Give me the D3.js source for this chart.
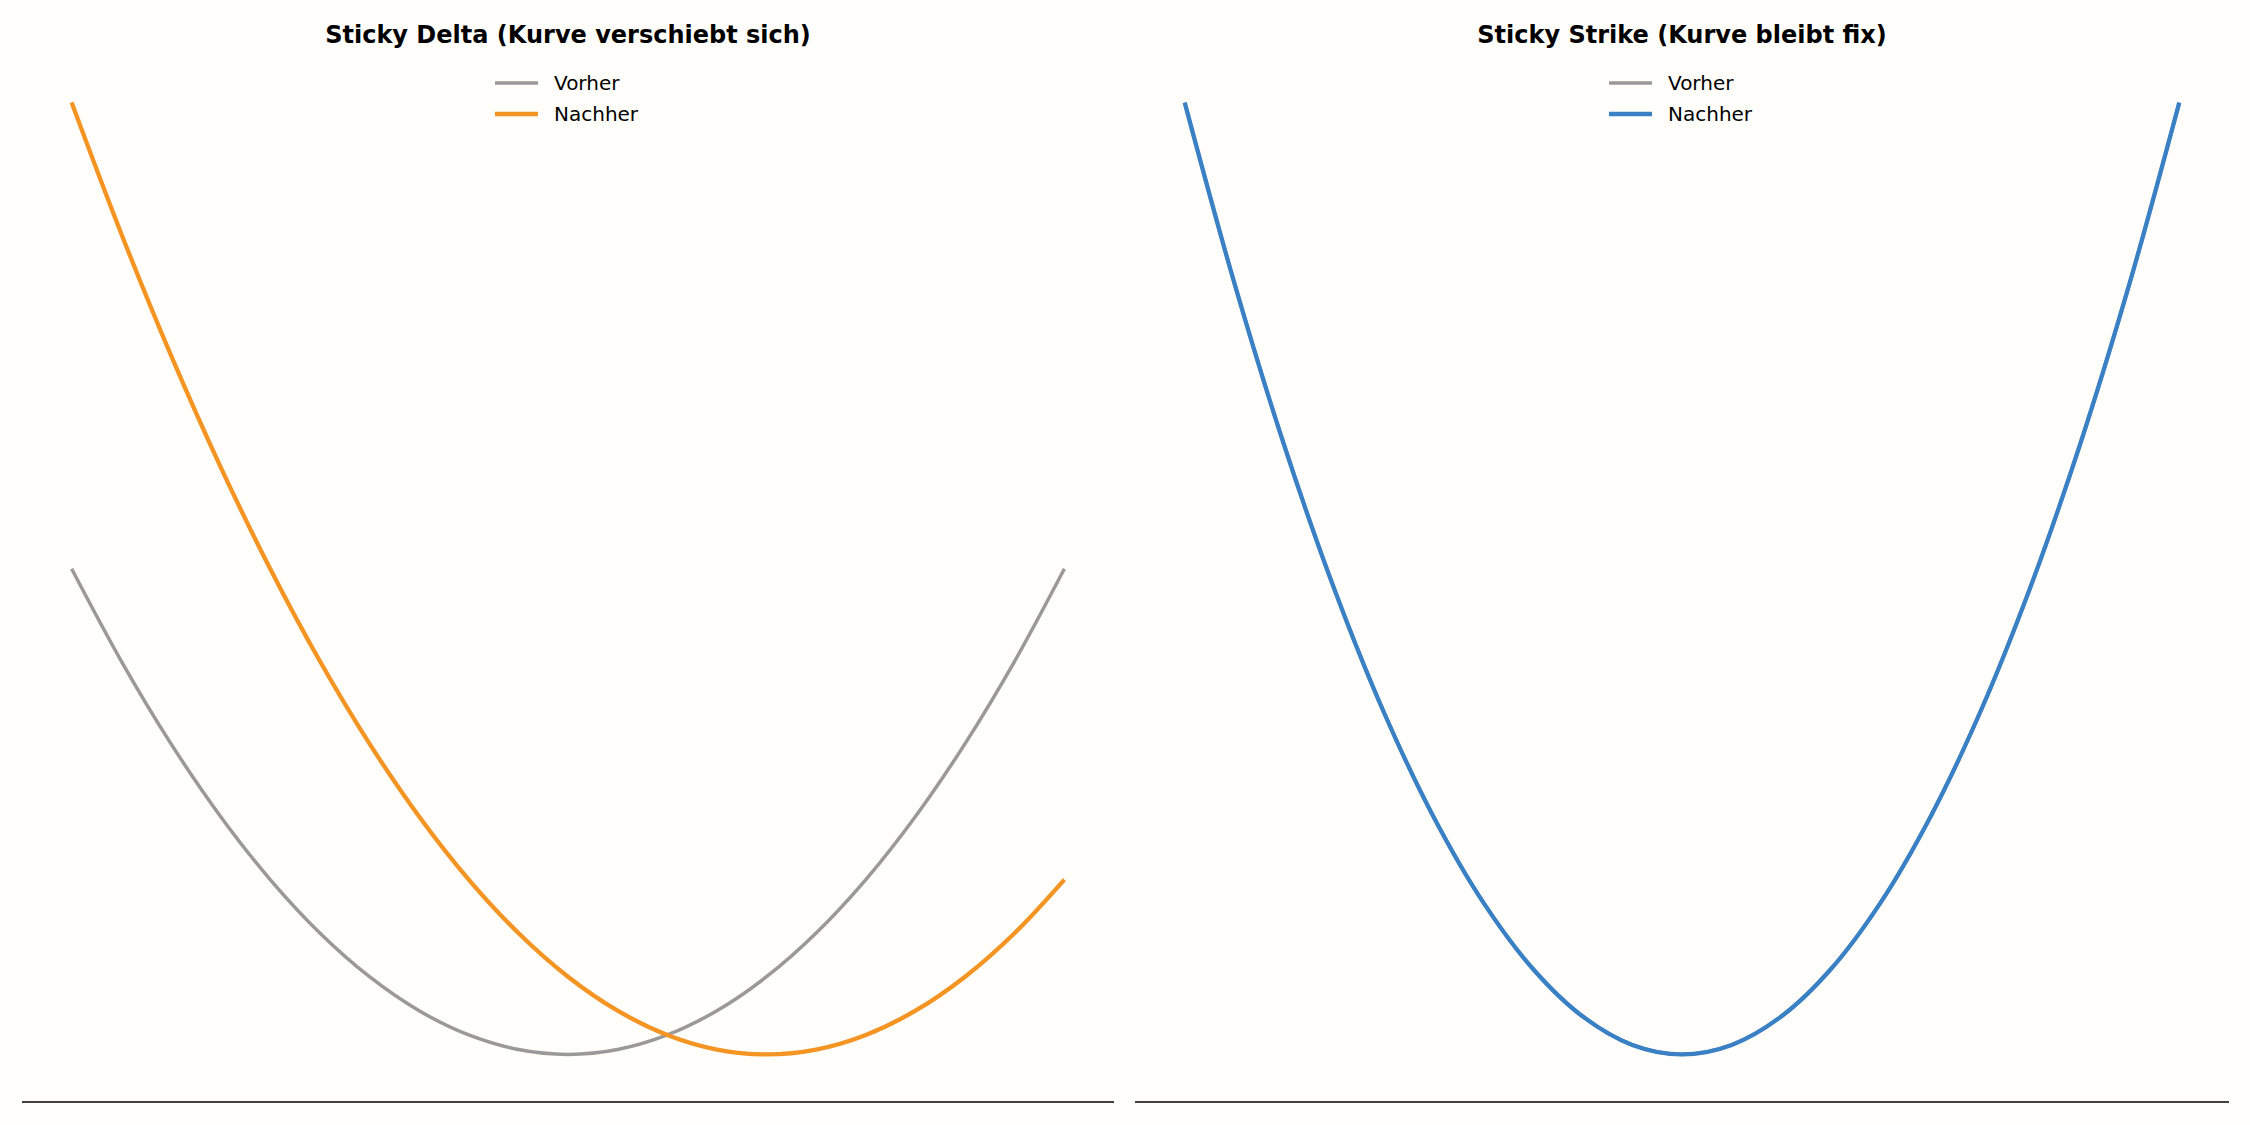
<!DOCTYPE html>
<html><head><meta charset="utf-8">
<script src="https://cdn.jsdelivr.net/npm/d3@7"></script>
<style>body{margin:0;background:#fffefb}svg{display:block}</style>
</head><body><svg id="c" width="2250" height="1125"></svg>
<script>
const moneyness = [-1,-0.9,-0.8,-0.7,-0.6,-0.5,-0.4,-0.3,-0.2,-0.1,0,0.1,0.2,0.3,0.4,0.5,0.6,0.7,0.8,0.9,1];
const deltaBefore = [1,0.81,0.64,0.49,0.36,0.25,0.16,0.09,0.04,0.01,0,0.01,0.04,0.09,0.16,0.25,0.36,0.49,0.64,0.81,1];
const deltaAfter = [1.96,1.69,1.44,1.21,1.0,0.81,0.64,0.49,0.36,0.25,0.16,0.09,0.04,0.01,0,0.01,0.04,0.09,0.16,0.25,0.36];
const strikeBefore = [1.96,1.5876,1.2544,0.9604,0.7056,0.49,0.3136,0.1764,0.0784,0.0196,0,0.0196,0.0784,0.1764,0.3136,0.49,0.7056,0.9604,1.2544,1.5876,1.96];
const strikeAfter = strikeBefore.slice();
const titles = ["Sticky Delta (Kurve verschiebt sich)","Sticky Strike (Kurve bleibt fix)"];
const legendLabels = ["Vorher","Nachher"];

const svg = d3.select("#c");
svg.append("rect").attr("width",2250).attr("height",1125).attr("fill","#fffefb");
const panels = [
  {x0:22,x1:1114,before:deltaBefore,after:deltaAfter,color:"#f39423",title:titles[0]},
  {x0:1135,x1:2229,before:strikeBefore,after:strikeAfter,color:"#3a80c4",title:titles[1]}
];
const y = d3.scaleLinear().domain([-0.098,2.058]).range([1102,55]);
panels.forEach(p=>{
  const x = d3.scaleLinear().domain([-1.1,1.1]).range([p.x0,p.x1]);
  const g = svg.append("g");
  const line = d3.line().x((d,i)=>x(moneyness[i])).y(d=>y(d)).curve(d3.curveCatmullRom.alpha(0.5));
  g.append("line").attr("x1",p.x0).attr("x2",p.x1).attr("y1",1102).attr("y2",1102).attr("stroke","#000").attr("stroke-width",1.5);
  g.append("path").attr("d",line(p.before)).attr("fill","none").attr("stroke","#999999").attr("stroke-width",3.5);
  g.append("path").attr("d",line(p.after)).attr("fill","none").attr("stroke",p.color).attr("stroke-width",4.3);
  const cx=(p.x0+p.x1)/2;
  g.append("text").attr("x",cx).attr("y",43).attr("text-anchor","middle").attr("font-family","DejaVu Sans").attr("font-weight","bold").attr("font-size",24).text(p.title);
  const lx = cx-73;
  [["#999999",3.5],[p.color,4.3]].forEach((s,i)=>{
    const ly=83+i*31;
    g.append("line").attr("x1",lx).attr("x2",lx+43).attr("y1",ly).attr("y2",ly).attr("stroke",s[0]).attr("stroke-width",s[1]);
    g.append("text").attr("x",lx+59).attr("y",ly+7).attr("font-family","DejaVu Sans").attr("font-size",20).text(legendLabels[i]);
  });
});
</script></body></html>
